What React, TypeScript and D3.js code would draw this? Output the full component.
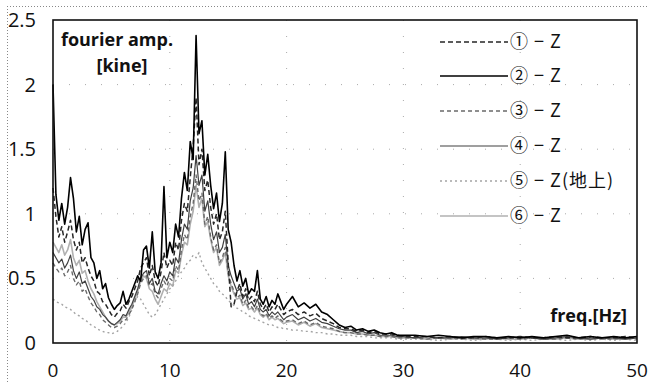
import React from "react";
import * as d3 from "d3";

const freq: number[] = [
  ...d3.range(0, 20.001, 0.25),
  ...d3.range(20.5, 30.001, 0.5),
  ...d3.range(31, 50.001, 1),
];

const s1 = [1.20,0.98,0.82,0.90,0.78,0.86,0.95,0.80,0.72,0.78,0.62,0.66,0.58,0.52,0.48,0.40,0.38,0.32,0.30,0.26,0.22,0.20,0.23,0.25,0.30,0.27,0.32,0.36,0.42,0.48,0.58,0.62,0.66,0.52,0.60,0.48,0.44,0.55,0.70,0.58,0.64,0.60,0.78,0.72,0.95,1.08,1.02,1.28,1.52,1.90,1.38,1.50,1.18,1.26,1.05,0.92,1.00,0.80,0.86,1.02,0.62,0.28,0.30,0.40,0.46,0.36,0.42,0.33,0.36,0.32,0.40,0.30,0.26,0.30,0.24,0.28,0.26,0.30,0.26,0.22,0.24,
  0.26,0.22,0.24,0.21,0.23,0.19,0.17,0.15,0.12,0.11,0.11,0.09,0.10,0.08,0.09,0.07,0.07,0.07,0.06,0.05,
  0.05,0.05,0.04,0.05,0.04,0.04,0.05,0.04,0.04,0.05,0.04,0.04,0.05,0.04,0.04,0.05,0.04,0.04,0.05,0.04];
const s2 = [2.00,1.15,0.95,1.08,0.92,1.05,1.28,1.12,0.86,0.98,0.76,0.88,0.93,0.66,0.62,0.50,0.56,0.42,0.46,0.35,0.30,0.26,0.29,0.31,0.40,0.30,0.34,0.40,0.46,0.52,0.48,0.72,0.75,0.58,0.86,0.55,0.50,0.62,1.21,0.66,0.78,0.70,0.92,0.82,1.12,1.32,1.18,1.56,1.42,2.38,1.62,1.72,1.30,1.46,1.22,1.04,1.16,0.94,1.08,1.48,0.88,0.78,0.60,0.48,0.56,0.44,0.50,0.38,0.42,0.40,0.56,0.34,0.30,0.36,0.28,0.33,0.30,0.38,0.32,0.26,0.30,
  0.36,0.28,0.31,0.27,0.30,0.24,0.22,0.18,0.14,0.12,0.13,0.10,0.11,0.09,0.10,0.08,0.07,0.08,0.06,0.06,
  0.06,0.05,0.06,0.05,0.04,0.05,0.05,0.04,0.05,0.04,0.05,0.04,0.05,0.06,0.04,0.05,0.04,0.05,0.04,0.05];
const s3 = [0.62,0.58,0.55,0.58,0.52,0.55,0.60,0.50,0.45,0.48,0.40,0.42,0.36,0.31,0.28,0.24,0.22,0.18,0.16,0.14,0.12,0.12,0.13,0.15,0.18,0.18,0.22,0.26,0.32,0.38,0.46,0.50,0.52,0.44,0.46,0.38,0.35,0.42,0.48,0.44,0.50,0.48,0.60,0.56,0.72,0.84,0.80,0.98,1.08,1.30,1.10,1.16,0.92,0.98,0.82,0.72,0.76,0.62,0.66,0.74,0.54,0.46,0.40,0.35,0.37,0.30,0.33,0.27,0.28,0.25,0.29,0.23,0.21,0.23,0.19,0.21,0.19,0.21,0.18,0.16,0.17,
  0.18,0.15,0.17,0.14,0.16,0.13,0.12,0.11,0.09,0.08,0.08,0.07,0.07,0.06,0.06,0.05,0.05,0.05,0.04,0.04,
  0.04,0.03,0.04,0.04,0.03,0.04,0.03,0.03,0.04,0.03,0.04,0.03,0.03,0.04,0.03,0.04,0.03,0.03,0.04,0.03];
const s4 = [0.70,0.66,0.62,0.65,0.58,0.62,0.68,0.56,0.50,0.55,0.46,0.48,0.42,0.36,0.33,0.28,0.26,0.22,0.20,0.17,0.15,0.14,0.16,0.18,0.22,0.21,0.26,0.30,0.36,0.42,0.50,0.54,0.56,0.46,0.50,0.40,0.38,0.46,0.52,0.48,0.55,0.52,0.66,0.62,0.80,0.92,0.88,1.10,1.20,1.45,1.22,1.30,1.02,1.10,0.92,0.80,0.86,0.70,0.74,0.84,0.60,0.52,0.46,0.40,0.42,0.34,0.38,0.30,0.32,0.28,0.34,0.26,0.24,0.26,0.21,0.24,0.22,0.24,0.21,0.18,0.20,
  0.22,0.18,0.20,0.17,0.19,0.16,0.15,0.13,0.11,0.10,0.10,0.08,0.09,0.07,0.08,0.06,0.06,0.06,0.05,0.05,
  0.04,0.05,0.04,0.04,0.05,0.04,0.04,0.03,0.04,0.05,0.04,0.03,0.04,0.05,0.04,0.03,0.04,0.04,0.03,0.04];
const s5 = [0.34,0.32,0.31,0.30,0.28,0.27,0.26,0.24,0.22,0.21,0.19,0.18,0.16,0.14,0.13,0.11,0.10,0.09,0.08,0.08,0.07,0.08,0.09,0.11,0.13,0.16,0.20,0.26,0.32,0.36,0.34,0.30,0.26,0.22,0.20,0.22,0.26,0.30,0.34,0.38,0.42,0.44,0.48,0.52,0.55,0.58,0.62,0.64,0.68,0.66,0.70,0.62,0.58,0.54,0.50,0.46,0.44,0.40,0.38,0.36,0.33,0.31,0.29,0.27,0.26,0.24,0.23,0.21,0.20,0.19,0.18,0.17,0.16,0.15,0.14,0.14,0.13,0.12,0.12,0.11,0.11,
  0.10,0.10,0.09,0.09,0.08,0.08,0.07,0.07,0.06,0.06,0.06,0.05,0.05,0.05,0.04,0.04,0.04,0.04,0.03,0.03,
  0.03,0.03,0.02,0.03,0.03,0.02,0.03,0.03,0.02,0.03,0.02,0.03,0.03,0.02,0.03,0.02,0.03,0.02,0.03,0.02];
const s6 = [0.78,0.74,0.70,0.76,0.68,0.72,0.80,0.66,0.60,0.64,0.54,0.56,0.48,0.42,0.38,0.32,0.28,0.24,0.20,0.17,0.15,0.14,0.15,0.17,0.20,0.20,0.24,0.28,0.34,0.40,0.48,0.52,0.50,0.42,0.40,0.34,0.30,0.36,0.42,0.40,0.46,0.44,0.56,0.54,0.68,0.78,0.76,0.92,1.02,1.22,1.05,1.12,0.90,0.94,0.80,0.70,0.74,0.60,0.64,0.70,0.52,0.44,0.38,0.34,0.35,0.29,0.31,0.26,0.27,0.24,0.27,0.22,0.20,0.22,0.18,0.20,0.18,0.19,0.17,0.15,0.16,
  0.17,0.14,0.16,0.13,0.15,0.12,0.11,0.10,0.09,0.08,0.08,0.07,0.07,0.06,0.06,0.05,0.05,0.05,0.04,0.04,
  0.04,0.03,0.04,0.03,0.04,0.03,0.03,0.04,0.03,0.03,0.04,0.03,0.03,0.04,0.03,0.03,0.04,0.03,0.03,0.04];

const seriesNames = ["① − Z", "② − Z", "③ − Z", "④ − Z", "⑤ − Z(地上)", "⑥ − Z"];
const seriesValues = [s1, s2, s3, s4, s5, s6];
const yTicks = [0, 0.5, 1, 1.5, 2, 2.5];
const xTicks = [0, 10, 20, 30, 40, 50];

const styles = [
  { color: "#262626", width: 1.5, dash: "5,3" },
  { color: "#000000", width: 1.6, dash: "" },
  { color: "#6a6a6a", width: 1.4, dash: "4,3" },
  { color: "#404040", width: 1.2, dash: "" },
  { color: "#a4a4a4", width: 1.4, dash: "2,3" },
  { color: "#b0b0b0", width: 1.6, dash: "" },
];
const drawOrder = [5, 4, 2, 3, 0, 1];

export default function App() {
  const L = 53, R = 637, T = 20, B = 343;
  const x = d3.scaleLinear().domain([0, 50]).range([L, R]);
  const y = d3.scaleLinear().domain([0, 2.5]).range([B, T]);
  const line = d3
    .line<number>()
    .x((_, i) => x(freq[i]))
    .y((d) => y(d));
  const font = "'Open Sans', 'Noto Sans', sans-serif";
  const legendY = [42, 76, 111, 146, 181, 216];

  return (
    <svg
      width={649}
      height={383}
      style={{ position: "absolute", left: 0, top: 0, background: "#fff" }}
    >
      <rect x={0} y={0} width={649} height={383} fill="#fff" />
      {/* outer dotted border */}
      <line x1={7} y1={6.5} x2={649} y2={6.5} stroke="#888" strokeDasharray="1,2" />
      <line x1={7.5} y1={6} x2={7.5} y2={383} stroke="#888" strokeDasharray="1,2" />

      {/* gridlines */}
      {yTicks.filter((t) => t > 0 && t < 2.5).map((t) => (
        <line key={"gy" + t} x1={L} x2={R} y1={y(t)} y2={y(t)} stroke="#aaa" strokeDasharray="1,15" />
      ))}
      {xTicks.filter((t) => t > 0 && t < 50).map((t) => (
        <line key={"gx" + t} x1={x(t)} x2={x(t)} y1={T} y2={B} stroke="#aaa" strokeDasharray="1,15" />
      ))}

      {/* series */}
      {drawOrder.map((k) => (
        <path
          key={"s" + k}
          d={line(seriesValues[k]) || ""}
          fill="none"
          stroke={styles[k].color}
          strokeWidth={styles[k].width}
          strokeDasharray={styles[k].dash || undefined}
          strokeLinejoin="round"
        />
      ))}

      {/* frame */}
      <rect x={L} y={T} width={R - L} height={B - T} fill="none" stroke="#111" strokeWidth={1.6} />

      {/* y ticks */}
      {yTicks.map((t) => (
        <text key={"yt" + t} x={36} y={y(t) + 7} textAnchor="end" fontFamily={font} fontSize={20} fill="#111">
          {String(t)}
        </text>
      ))}
      {/* x ticks */}
      {xTicks.map((t) => (
        <text key={"xt" + t} x={x(t)} y={377} textAnchor="middle" fontFamily={font} fontSize={19} fill="#111">
          {String(t)}
        </text>
      ))}

      {/* axis titles */}
      <text x={117} y={46} textAnchor="middle" fontFamily={font} fontWeight="bold" fontSize={18} fill="#111">
        fourier amp.
      </text>
      <text x={122} y={72} textAnchor="middle" fontFamily={font} fontWeight="bold" fontSize={18} fill="#111">
        [kine]
      </text>
      <text x={627} y={322} textAnchor="end" fontFamily={font} fontWeight="bold" fontSize={18} fill="#111">
        freq.[Hz]
      </text>

      {/* legend */}
      {seriesNames.map((name, k) => (
        <g key={"lg" + k}>
          <line
            x1={440}
            x2={508}
            y1={legendY[k]}
            y2={legendY[k]}
            stroke={styles[k].color}
            strokeWidth={styles[k].width}
            strokeDasharray={styles[k].dash || undefined}
          />
          <text
            x={510}
            y={legendY[k] + 6}
            fontFamily="'Noto Sans CJK JP', 'DejaVu Sans', sans-serif"
            fontSize={18}
            letterSpacing={1}
            fill="#111"
          >
            {name}
          </text>
        </g>
      ))}
    </svg>
  );
}
